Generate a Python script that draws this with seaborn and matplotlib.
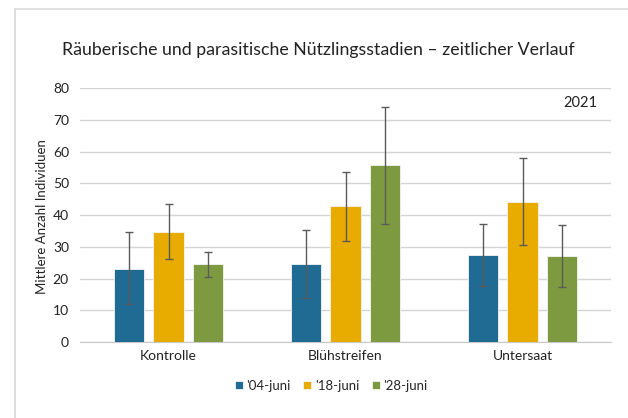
import pandas as pd
import matplotlib
matplotlib.use('Agg')
import matplotlib.pyplot as plt
import seaborn as sns
from matplotlib.patches import Rectangle

categories = ['Kontrolle', 'Blühstreifen', 'Untersaat']
dates = ["'04-juni", "'18-juni", "'28-juni"]

# mean values per date, one list per series
mean_04 = [23.1, 24.6, 27.4]
mean_18 = [34.5, 42.7, 44.1]
mean_28 = [24.6, 55.6, 27.0]

# error bar ends
low_04 = [11.9, 14.0, 17.5]
high_04 = [34.5, 35.4, 37.3]
low_18 = [26.0, 31.7, 30.5]
high_18 = [43.4, 53.6, 57.8]
low_28 = [20.6, 37.3, 17.2]
high_28 = [28.3, 74.1, 36.9]

colors = ['#1F6B93', '#E8AC00', '#7E9A41']

df = pd.DataFrame({
    'Variante': categories * 3,
    'Datum': [d for d in dates for _ in categories],
    'Wert': mean_04 + mean_18 + mean_28,
    'low': low_04 + low_18 + low_28,
    'high': high_04 + high_18 + high_28,
})

sns.set_style('white')
plt.rcParams['font.family'] = ['Lato', 'DejaVu Sans']

fig = plt.figure(figsize=(6.28, 4.18), dpi=100)
ax = fig.add_axes([80 / 628, 1 - 342 / 418, 531 / 628, 254 / 418])

sns.barplot(
    data=df,
    x='Variante',
    y='Wert',
    hue='Datum',
    order=categories,
    hue_order=dates,
    palette=colors,
    saturation=1,
    width=0.667,
    gap=0.22,
    errorbar=None,
    edgecolor='#f4f4f4',
    linewidth=0.6,
    ax=ax,
    zorder=3
)

# error bars placed on the bar centres
for bars, date in zip(ax.containers, dates):
    sub = df[df['Datum'] == date].set_index('Variante').loc[categories]
    xs = [b.get_x() + b.get_width() / 2 for b in bars]
    ax.errorbar(
        xs,
        sub['Wert'],
        yerr=[sub['Wert'] - sub['low'], sub['high'] - sub['Wert']],
        fmt='none',
        ecolor='#5a5a5a',
        elinewidth=1,
        capsize=3,
        capthick=1,
        zorder=4
    )

ax.set_ylim(0, 80)
ax.set_yticks(range(0, 81, 10))
ax.yaxis.grid(True, color='#d4d4d4', linewidth=1)
ax.set_axisbelow(True)
ax.set_xlim(-0.5, 2.5)

for s in ['top', 'right', 'left']:
    ax.spines[s].set_visible(False)
ax.spines['bottom'].set_color('#c8c8c8')
ax.tick_params(axis='both', length=0, labelsize=10, colors='#222222', pad=8)
ax.tick_params(axis='x', pad=6)

ax.set_xlabel('')
ax.set_ylabel('')
fig.text(42 / 628, 1 - 217 / 418, 'Mittlere Anzahl Individuen', rotation=90,
         ha='center', va='center', fontsize=9.5, color='#222222')

ax.text(0.975, 0.94, '2021', transform=ax.transAxes, ha='right', va='center',
        fontsize=10.5, color='#222222')

fig.text(0.507, 1 - 50 / 418, 'Räuberische und parasitische Nützlingsstadien – zeitlicher Verlauf',
         ha='center', va='center', fontsize=12.8, color='#222222')

ax.legend(
    loc='center',
    bbox_to_anchor=(0.473, -0.173),
    ncol=3,
    frameon=False,
    fontsize=9.5,
    handlelength=0.6,
    handleheight=0.6,
    handletextpad=0.25,
    columnspacing=1.0
)

fig.patches.append(Rectangle((15 / 628, -0.1), 1.2, 1 - 9 / 418 + 0.1,
                             transform=fig.transFigure, fill=False,
                             edgecolor='#d9d9d9', linewidth=1.2))

fig.savefig('out.png', dpi=100)
